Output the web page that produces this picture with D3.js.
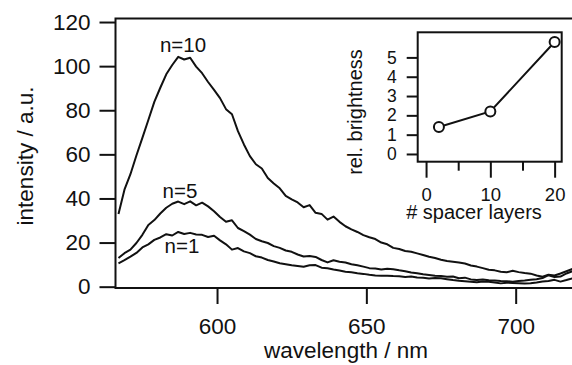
<!DOCTYPE html>
<html>
<head>
<meta charset="utf-8">
<script src="https://cdn.jsdelivr.net/npm/d3@7/dist/d3.min.js"></script>
<style>
  body { margin: 0; background: #fff; }
  svg { display: block; font-family: "Liberation Sans", Arial, sans-serif; }
  .axis text { fill: #111; }
  .axis line { stroke: #111; stroke-width: 2; }
</style>
</head>
<body>
<div id="chart"></div>
<script>
// emission spectra, wavelength in nm
const wavelengths = [567, 569, 571, 573, 575, 577, 579, 581, 583, 585, 587, 589, 591, 593, 595, 597, 599,
  601, 603, 605, 607, 609, 611, 613, 615, 617, 619, 621, 623, 625, 627, 629, 631, 633, 635, 637, 639,
  641, 643, 645, 647, 649, 651, 653, 655, 657, 659, 661, 663, 665, 667, 669, 671, 673, 675, 677, 679,
  681, 683, 685, 687, 689, 691, 693, 695, 697, 699, 701, 703, 705, 707, 709, 711, 713, 715, 717, 719];

const n10 = [33, 44, 51, 59.5, 67.5, 75.6, 83.8, 90.2, 96.3, 100.5, 104.2, 103, 103.8, 99.8, 96.8, 92.8, 89.2,
  85.5, 80.5, 78.2, 70.5, 64.5, 59.2, 55.5, 53.6, 49.3, 46.8, 44.6, 41.2, 39.6, 38.2, 36, 37, 33.5, 33, 30.4, 31.8,
  29.4, 27.4, 26, 24.8, 23.4, 22.4, 21.6, 20, 19.2, 17.6, 17.1, 16.2, 15.8, 15.1, 14.4, 13.6, 13, 12.2, 11.6, 11.3,
  11, 10.5, 9.6, 9.1, 8.4, 7.7, 7.4, 6.8, 6.5, 7.2, 6.6, 6.2, 5.9, 5.1, 4.5, 5.4, 5.1, 6, 7, 8];

const n5 = [13, 15.2, 16.8, 19.8, 23.5, 28, 30.2, 33.2, 35.8, 37.6, 38.6, 37.4, 38.7, 36.9, 38.1, 36.4, 34.2,
  31.6, 29.4, 30.1, 26.6, 25.2, 23.6, 21.6, 20.6, 19.8, 18.4, 17.6, 16.4, 15.8, 14.6, 13.7, 13.9, 13.5, 12.1, 11, 12,
  11.3, 11, 10.2, 9.7, 9.1, 8.4, 8.2, 7.8, 8.1, 7.9, 7.4, 7, 6.4, 6.1, 5.6, 5.3, 5, 4.8, 4.5, 4.6,
  3.8, 4.1, 3.3, 3, 3.3, 2.9, 2.8, 2.6, 2.5, 2.2, 2.6, 2.8, 3.1, 3.4, 3.9, 5.2, 4.4, 4.6, 6, 7];

const n1 = [10.6, 12, 13.6, 15.3, 17.8, 19.2, 21.2, 22.3, 23.8, 23.2, 24.8, 23.9, 24.4, 23.7, 23.5, 22.5, 23.1,
  21, 19.2, 16.8, 17.5, 16, 15.2, 13.8, 13.2, 12.1, 11.4, 10.6, 10.2, 9.7, 9.4, 9, 9.7, 9.8, 8.6, 8.4, 7.8,
  7.3, 6.8, 6.5, 6.1, 5.8, 5.4, 5.1, 4.9, 5, 4.8, 4.7, 4.4, 4.6, 4.2, 4, 3.7, 3.9, 3.8, 3.4, 3,
  2.7, 2.5, 2.2, 2, 2.3, 2.2, 1.9, 1.5, 1.8, 1.7, 1.6, 1.4, 1.6, 1.9, 2.3, 2.6, 3.1, 2.3, 3, 3.8];

const seriesNames = ["n=10", "n=5", "n=1"];
const xTicks = [600, 650, 700];
const yTicks = [0, 20, 40, 60, 80, 100, 120];

// inset: relative brightness vs spacer layers
const spacerLayers = [2, 10, 20];
const relBrightness = [1.4, 2.2, 5.8];
const insetXMajor = [0, 10, 20];
const insetXMinor = [5, 15];
const insetYTicks = [0, 1, 2, 3, 4, 5];

const W = 572, H = 365;
const svg = d3.select('#chart').append('svg')
  .attr('width', W)
  .attr('height', H);

const x = d3.scaleLinear().domain([566, 720]).range([115.5, 575.4]);
const y = d3.scaleLinear().domain([-0.6, 121.6]).range([288, 18.5]);

svg.append('defs').append('clipPath').attr('id', 'plotclip')
  .append('rect')
  .attr('x', x(566)).attr('y', y(121.6))
  .attr('width', x(720) - x(566)).attr('height', y(-0.6) - y(121.6));

// frame
svg.append('rect')
  .attr('x', x(566)).attr('y', y(121.6))
  .attr('width', x(720) - x(566)).attr('height', y(-0.6) - y(121.6))
  .attr('fill', 'none').attr('stroke', '#111').attr('stroke-width', 2);

const xAxis = svg.append('g')
  .attr('class', 'axis')
  .attr('transform', `translate(0,${y(-0.6)})`)
  .call(d3.axisBottom(x).tickValues(xTicks).tickSize(16).tickPadding(14));
xAxis.select('.domain').remove();
xAxis.selectAll('text').attr('font-size', 22.5).attr('font-family', null);

const yAxis = svg.append('g')
  .attr('class', 'axis')
  .attr('transform', `translate(${x(566)},0)`)
  .call(d3.axisLeft(y).tickValues(yTicks).tickSize(16).tickPadding(9));
yAxis.select('.domain').remove();
yAxis.selectAll('text').attr('font-size', 22.5).attr('font-family', null);

svg.append('text')
  .attr('x', 346).attr('y', 358)
  .attr('text-anchor', 'middle')
  .attr('font-size', 22.5).attr('fill', '#111')
  .text('wavelength / nm');

svg.append('text')
  .attr('transform', 'translate(33,156) rotate(-90)')
  .attr('text-anchor', 'middle')
  .attr('font-size', 22.5).attr('fill', '#111')
  .text('intensity / a.u.');

// spectra
const line = d3.line()
  .x((d, i) => x(wavelengths[i]))
  .y(d => y(d));

const curves = svg.append('g').attr('clip-path', 'url(#plotclip)');
[n10, n5, n1].forEach(s => {
  curves.append('path')
    .datum(s)
    .attr('d', line)
    .attr('fill', 'none')
    .attr('stroke', '#111')
    .attr('stroke-width', 2)
    .attr('stroke-linejoin', 'round');
});

// curve labels
const labelPos = [[183, 52], [180, 198], [182, 253]];
seriesNames.forEach((name, i) => {
  svg.append('text')
    .attr('x', labelPos[i][0]).attr('y', labelPos[i][1])
    .attr('text-anchor', 'middle')
    .attr('font-size', 20.5).attr('fill', '#111')
    .text(name);
});

// ---- inset ----
const xi = d3.scaleLinear().domain([-1.3, 21.1]).range([417.7, 561.7]);
const yi = d3.scaleLinear().domain([-0.4, 6.3]).range([161.7, 32.3]);

svg.append('rect')
  .attr('x', xi(-1.3)).attr('y', yi(6.3))
  .attr('width', xi(21.1) - xi(-1.3)).attr('height', yi(-0.4) - yi(6.3))
  .attr('fill', '#fff').attr('stroke', '#111').attr('stroke-width', 2);

const ixAxis = svg.append('g')
  .attr('class', 'axis')
  .attr('transform', `translate(0,${yi(-0.4)})`)
  .call(d3.axisBottom(xi).tickValues(insetXMajor).tickSize(16).tickPadding(10));
ixAxis.select('.domain').remove();
ixAxis.selectAll('text').attr('font-size', 18.5).attr('font-family', null);

const ixMinor = svg.append('g')
  .attr('class', 'axis')
  .attr('transform', `translate(0,${yi(-0.4)})`)
  .call(d3.axisBottom(xi).tickValues(insetXMinor).tickSize(9).tickFormat(''));
ixMinor.select('.domain').remove();

const iyAxis = svg.append('g')
  .attr('class', 'axis')
  .attr('transform', `translate(${xi(-1.3)},0)`)
  .call(d3.axisLeft(yi).tickValues(insetYTicks).tickFormat(d3.format('d')).tickSize(11).tickPadding(10));
iyAxis.select('.domain').remove();
iyAxis.selectAll('text').attr('font-size', 17.5).attr('font-family', null);

svg.append('text')
  .attr('x', 474).attr('y', 219)
  .attr('text-anchor', 'middle')
  .attr('font-size', 20).attr('fill', '#111')
  .text('# spacer layers');

svg.append('text')
  .attr('transform', 'translate(362,112) rotate(-90)')
  .attr('text-anchor', 'middle')
  .attr('font-size', 20).attr('fill', '#111')
  .text('rel. brightness');

const pts = spacerLayers.map((v, i) => [v, relBrightness[i]]);
svg.append('path')
  .datum(pts)
  .attr('d', d3.line().x(d => xi(d[0])).y(d => yi(d[1])))
  .attr('fill', 'none').attr('stroke', '#111').attr('stroke-width', 2);

svg.selectAll('.pt')
  .data(pts)
  .enter().append('circle')
  .attr('class', 'pt')
  .attr('cx', d => xi(d[0]))
  .attr('cy', d => yi(d[1]))
  .attr('r', 5)
  .attr('fill', '#fff').attr('stroke', '#111').attr('stroke-width', 2);
</script>
</body>
</html>
